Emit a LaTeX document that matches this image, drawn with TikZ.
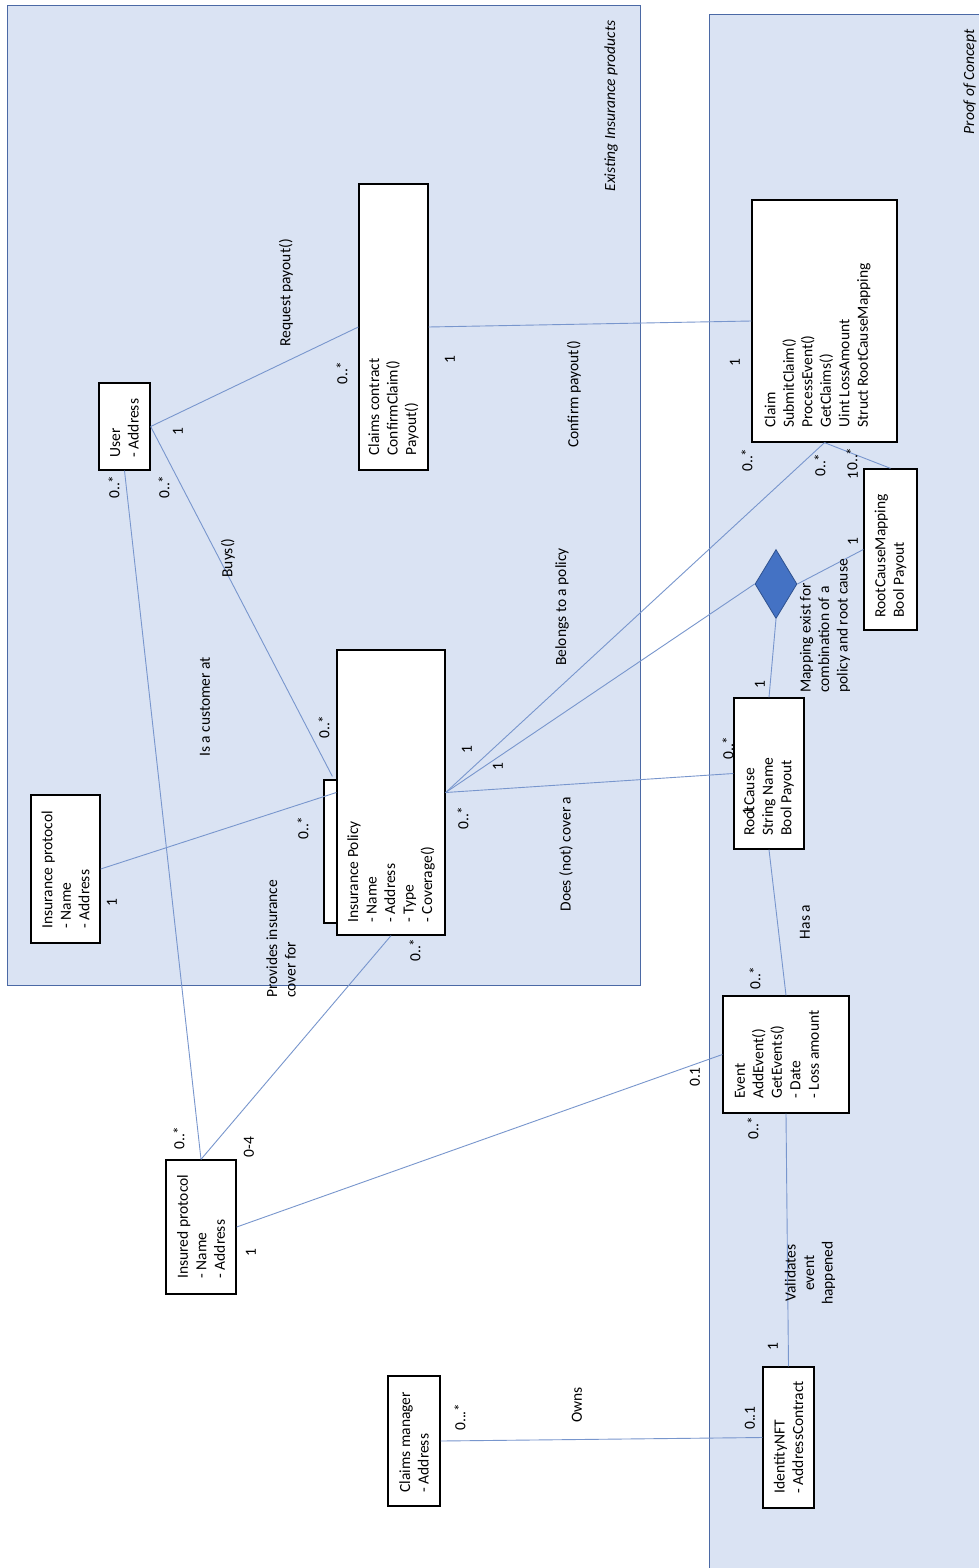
\documentclass[tikz,border=0pt]{standalone}
\usepackage{fontspec}
\setmainfont{Carlito}
\usetikzlibrary{calc,shapes.geometric}
\definecolor{panelfill}{RGB}{218,227,243}
\definecolor{panelline}{RGB}{75,105,165}
\definecolor{linkblue}{RGB}{120,150,205}
\definecolor{diafill}{RGB}{68,114,196}
\definecolor{diaedge}{RGB}{47,82,143}
\begin{document}
\begin{tikzpicture}[x=1pt,y=-1pt,
  txt/.style={rotate=90, inner sep=0pt, font=\fontsize{15.5}{18.5}\selectfont},
  itxt/.style={txt, font=\fontsize{15.5}{18.5}\selectfont\itshape},
  cls/.style={draw=black, line width=1.3pt, fill=white, inner sep=0pt},
  link/.style={draw=linkblue, line width=0.9pt},
  panel/.style={draw=panelline, fill=panelfill, line width=1.2pt, inner sep=0pt, anchor=north west}]

\path[use as bounding box] (0,0) rectangle (979,1568);
\fill[white] (0,0) rectangle (979,1568);

% containers
\node[panel, minimum width=633pt, minimum height=980pt] (existing) at (7,5) {};
\node[panel, minimum width=285pt, minimum height=1570pt] (poc) at (709,14) {};
\node[itxt] (existing-title) at (611,106) {Existing Insurance products};
\node[itxt] (poc-title) at (970,82) {Proof of Concept};

% classes
\node[cls, minimum width=69pt, minimum height=286pt] (cc) at (393.5,327) {};
\node[txt, align=left, anchor=west] (cc-text) at ($(cc.south)+(0,-15)$) {Claims contract\\ConfirmClaim()\\Payout()};

\node[cls, minimum width=51pt, minimum height=87pt] (user) at (124.5,426.5) {};
\node[txt, align=left, anchor=west] (user-text) at ($(user.south)+(0,-13)$) {User\\ - Address};

\node[cls, minimum width=69pt, minimum height=148pt] (inp) at (65.5,869) {};
\node[txt, align=left, anchor=west] (inp-text) at ($(inp.south)+(0,-15)$) {Insurance protocol\\ - Name\\ - Address};

\node[cls, minimum width=26pt, minimum height=143pt] (ipback) at (337,851.5) {};
\node[cls, minimum width=108pt, minimum height=285pt] (ip) at (391,792.5) {};
\node[txt, align=left, anchor=west] (ip-text) at ($(ip.south)+(0,-13)$) {Insurance Policy\\ - Name\\ - Address\\ - Type\\ - Coverage()};

\node[cls, minimum width=70pt, minimum height=134pt] (insd) at (201,1227) {};
\node[txt, align=left, anchor=west] (insd-text) at ($(insd.south)+(0,-16)$) {Insured protocol\\ - Name\\ - Address};

\node[cls, minimum width=52pt, minimum height=130pt] (cm) at (414,1441) {};
\node[txt, align=left, anchor=west] (cm-text) at ($(cm.south)+(0,-14)$) {Claims manager\\ - Address};

\node[cls, minimum width=145pt, minimum height=242pt] (claim) at (824.5,321) {};
\node[txt, align=left, anchor=west] (claim-text) at ($(claim.south)+(-7,-15)$) {Claim\\SubmitClaim()\\ProcessEvent()\\GetClaims()\\Uint LossAmount\\Struct RootCauseMapping};

\node[cls, minimum width=53pt, minimum height=161pt] (rcm) at (890.5,549.5) {};
\node[txt, align=left, anchor=west] (rcm-text) at ($(rcm.south)+(0,-13)$) {RootCauseMapping\\Bool Payout};

\node[cls, minimum width=70pt, minimum height=151pt] (rc) at (769,773.5) {};
\node[txt, align=left, anchor=west] (rc-text) at ($(rc.south)+(0,-14)$) {RootCause\\String Name\\Bool Payout};

\node[cls, minimum width=126pt, minimum height=117pt] (ev) at (786,1054.5) {};
\node[txt, align=left, anchor=west] (ev-text) at ($(ev.south)+(-9,-15)$) {Event\\AddEvent()\\GetEvents()\\ - Date\\ - Loss amount};

\node[cls, minimum width=51pt, minimum height=141pt] (nft) at (788.5,1437.5) {};
\node[txt, align=left, anchor=west] (nft-text) at ($(nft.south)+(0,-15)$) {IdentityNFT\\ - AddressContract};

\node[diamond, draw=diaedge, fill=diafill, line width=0.8pt, inner sep=0pt,
      minimum width=42pt, minimum height=69pt] (dm) at (776,584) {};

% associations
\draw[link] (user.east) -- (cc.west);
\draw[link] (cc.east) -- (claim.west);
\draw[link] (user.east) -- ($(ip.north west)+(-4,127)$);
\draw[link] (user.south) -- (insd.north);
\draw[link] (inp.east) -- (ip.west);
\draw[link] (ip.south) -- (insd.north);
\draw[link] (insd.east) -- (ev.west);
\draw[link] (ip.east) -- (claim.south);
\draw[link] (ip.east) -- (dm.west);
\draw[link] (ip.east) -- (rc.west);
\draw[link] (dm.east) -- (rcm.west);
\draw[link] (dm.south) -- (rc.north);
\draw[link] (claim.south) -- (rcm.north);
\draw[link] (rc.south) -- (ev.north);
\draw[link] (ev.south) -- (nft.north);
\draw[link] (cm.east) -- (nft.west);

% association names
\node[txt] (l-request) at (286,293) {Request payout()};
\node[txt] (l-confirm) at (574,394) {Confirm payout()};
\node[txt] (l-buys) at (228,558) {Buys()};
\node[txt] (l-belongs) at (562,607) {Belongs to a policy};
\node[txt] (l-customer) at (205,707) {Is a customer at};
\node[txt] (l-cover) at (566,854) {Does (not) cover a};
\node[txt, align=left, anchor=west] (l-provides) at (281,998) {Provides insurance\\cover for};
\node[txt] (l-has) at (805,922) {Has a};
\node[txt, align=center] (l-validates) at (810,1273) {Validates\\event\\happened};
\node[txt] (l-owns) at (577,1405) {Owns};
\node[txt, align=left, anchor=west] (l-mapping) at (825,693) {Mapping exist for\\combination of a\\policy and root cause};

% multiplicities
\node[txt] (m1) at (342,373) {0..*};
\node[txt] (m2) at (450,360) {1};
\node[txt] (m3) at (178,432) {1};
\node[txt] (m4) at (114,487) {0..*};
\node[txt] (m5) at (164,487) {0..*};
\node[txt] (m6) at (324,727) {0..*};
\node[txt] (m7) at (467,750) {1};
\node[txt] (m8) at (498,767) {1};
\node[txt] (m9) at (303,828) {0..*};
\node[txt] (m10) at (463,818) {0..*};
\node[txt] (m11) at (112,903) {1};
\node[txt] (m12) at (415,950) {0..*};
\node[txt] (m13) at (179,1138) {0..*};
\node[txt] (m14) at (249,1147) {0-4};
\node[txt] (m15) at (251,1253) {1};
\node[txt] (m16) at (695,1077) {0.1};
\node[txt] (m17) at (755,978) {0..*};
\node[txt] (m18) at (753,1128) {0..*};
\node[txt] (m19) at (773,1347) {1};
\node[txt] (m20) at (750,1418) {0..1};
\node[txt] (m21) at (460,1417) {0...*};
\node[txt] (m22) at (735,363) {1};
\node[txt] (m23) at (747,460) {0..*};
\node[txt] (m24) at (820,465) {0..*};
\node[txt] (m25) at (852,459) {0..*};
\node[txt] (m26) at (853,476) {1};
\node[txt] (m27) at (853,542) {1};
\node[txt] (m28) at (760,685) {1};
\node[txt] (m29) at (728,748) {0..*};
\node[txt] (m30) at (748,812) {1};
\end{tikzpicture}
\end{document}
